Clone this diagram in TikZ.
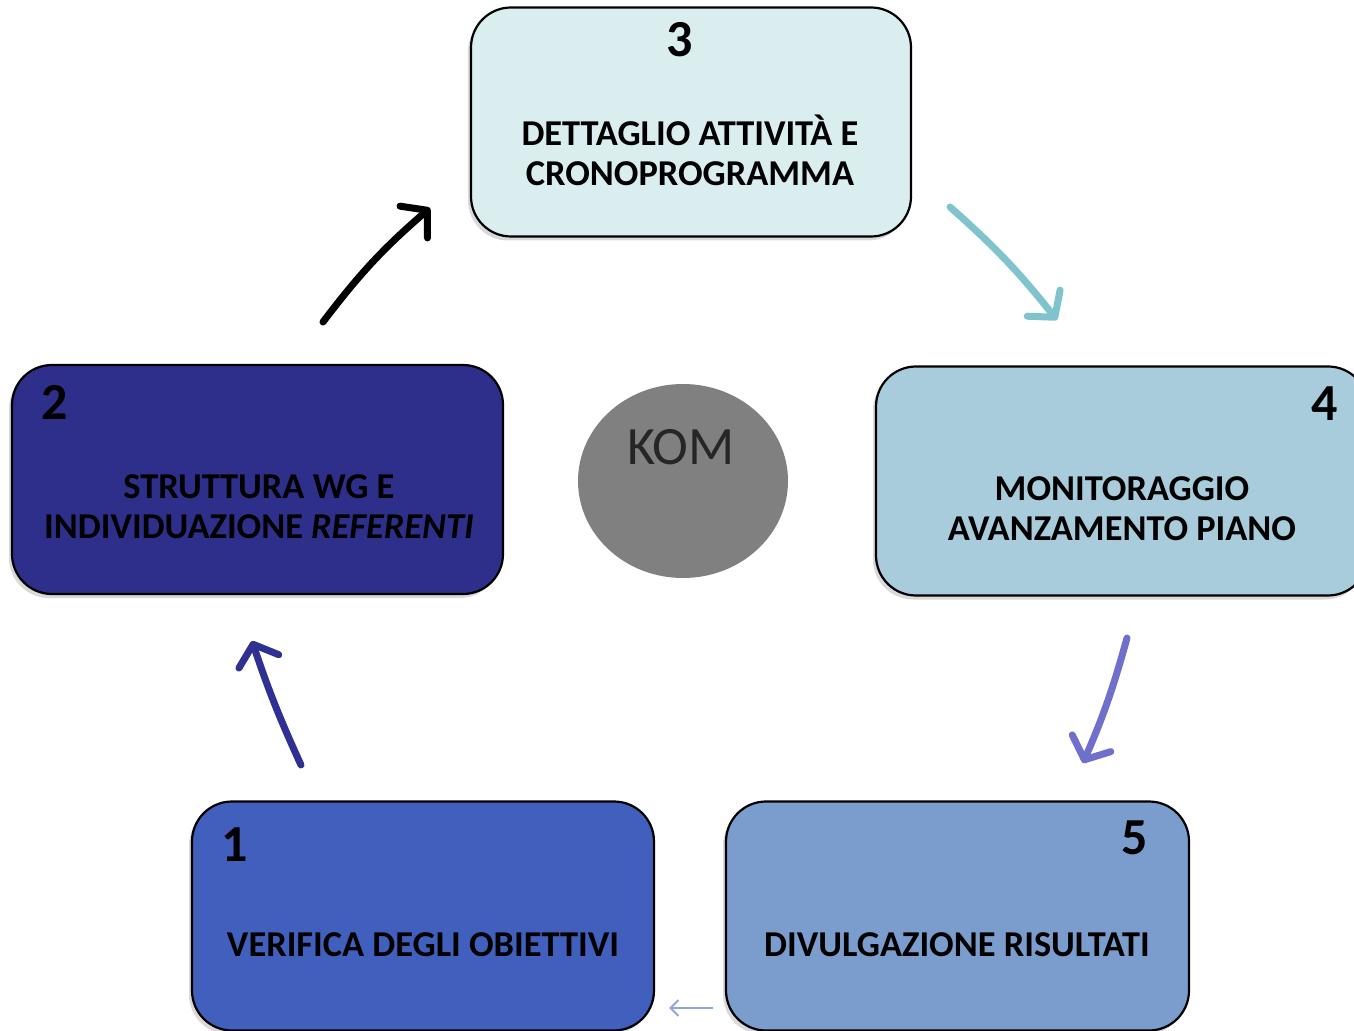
\documentclass[tikz,border=0pt]{standalone}
\usepackage{fontspec}
\setmainfont{Carlito}
\usetikzlibrary{arrows.meta,shadows,shapes.geometric}
\definecolor{boxone}{HTML}{415FBC}
\definecolor{boxtwo}{HTML}{2E2F8A}
\definecolor{boxthree}{HTML}{DAEEF0}
\definecolor{boxfour}{HTML}{A9CCDC}
\definecolor{boxfive}{HTML}{7A9DCE}
\definecolor{komgray}{HTML}{808080}
\definecolor{tealarrow}{HTML}{7FC4CC}
\definecolor{violetarrow}{HTML}{6F70CC}
\definecolor{navyarrow}{HTML}{2E3192}
\definecolor{paleblue}{HTML}{8FA8DA}
\begin{document}
\begin{tikzpicture}
  [x=0.5pt,y=-0.5pt,
   phase/.style={draw=black,line width=1.1pt,rounded corners=20pt,minimum height=114.5pt,inner sep=0pt,
                 drop shadow={shadow xshift=-1.5pt,shadow yshift=-2pt,opacity=.3}},
   num/.style={font=\bfseries\fontsize{26}{28}\selectfont},
   txt/.style={align=center,font=\bfseries\fontsize{18.2}{20}\selectfont},
   flow/.style={line width=3.5pt,line cap=round,-{Straight Barb[length=9pt,width=21pt,round]}}]
  \useasboundingbox (0,0) rectangle (1354,1031);
  \clip (0,0) rectangle (1354,1031);
  % boxes
  \node[phase,fill=boxthree,minimum width=220pt] (b3) at (691,122) {};
  \node[phase,fill=boxtwo,minimum width=245.5pt] (b2) at (257.5,479.5) {};
  \node[phase,fill=boxfour,minimum width=246pt] (b4) at (1122,481) {};
  \node[phase,fill=boxone,minimum width=231pt] (b1) at (423,916) {};
  \node[phase,fill=boxfive,minimum width=231.5pt] (b5) at (957.5,916) {};
  % numbers and texts
  \node[num] (n3) at (680,40) {3};
  \node[txt] (t3) at (690,150) {DETTAGLIO ATTIVITÀ E\\CRONOPROGRAMMA};
  \node[num] (n2) at (55,402) {2};
  \node[txt] (t2) at (259,507) {STRUTTURA WG E\\INDIVIDUAZIONE \textit{REFERENTI}};
  \node[num] (n4) at (1325,404) {4};
  \node[txt] (t4) at (1122,509) {MONITORAGGIO\\AVANZAMENTO PIANO};
  \node[num] (n1) at (235,845) {1};
  \node[txt] (t1) at (423,945) {VERIFICA DEGLI OBIETTIVI};
  \node[num] (n5) at (1135,838) {5};
  \node[txt] (t5) at (957,945) {DIVULGAZIONE RISULTATI};
  % centre
  \node[ellipse,fill=komgray,minimum width=105pt,minimum height=97pt,inner sep=0pt] (kom) at (683,481) {};
  \node[font=\fontsize{27}{29}\selectfont,text=black!85] (komtxt) at (681,447) {KOM};
  % arrows
  \coordinate (a23) at (323,322);
  \coordinate (e23) at (430,208);
  \coordinate (a34) at (950,207);
  \coordinate (e34) at (1057,320);
  \coordinate (a45) at (1127,638);
  \coordinate (e45) at (1083,763);
  \coordinate (a12) at (301,765);
  \coordinate (e12) at (252,641);
  \coordinate (a51) at (713,1008);
  \coordinate (e51) at (669,1008);
  \draw[flow,black] (a23) to[bend left=6] (e23);
  \draw[flow,tealarrow] (a34) to[bend left=5] (e34);
  \draw[flow,violetarrow] (a45) to[bend left=4] (e45);
  \draw[flow,navyarrow] (a12) to[bend left=3] (e12);
  \draw[paleblue,line width=1pt,-{Straight Barb[length=4pt,width=8pt]}] (a51) -- (e51);
\end{tikzpicture}
\end{document}
